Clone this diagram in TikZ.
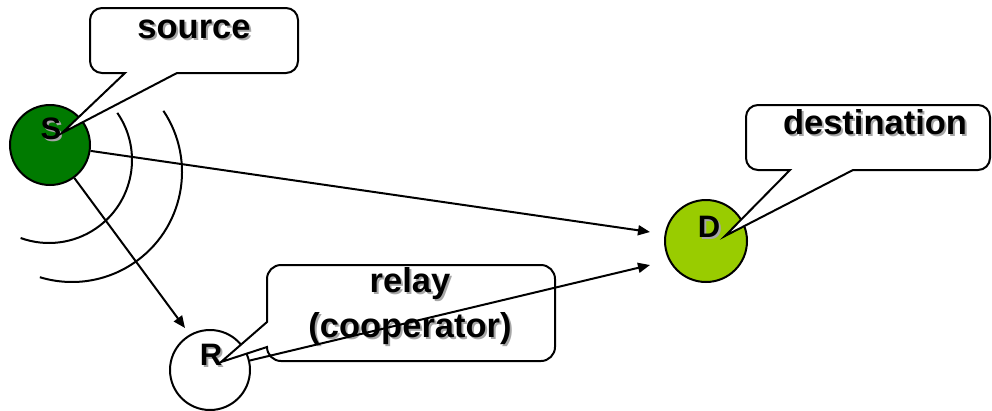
\documentclass[tikz,border=0pt]{standalone}
\usepackage{fontspec}
\setmainfont{Liberation Sans}
\usetikzlibrary{arrows.meta}
\definecolor{sgreen}{HTML}{007A00}
\definecolor{dgreen}{HTML}{99CC00}
\definecolor{shgray}{HTML}{A6A6A6}
\newcommand\shtxt[1]{\leavevmode\rlap{\kern2pt\raisebox{-2pt}[0pt][0pt]{\textcolor{shgray}{#1}}}#1}
\begin{document}
\begin{tikzpicture}[x=1pt,y=1pt, line width=2pt,
  nodecirc/.style={circle, draw, minimum size=80pt, inner sep=0pt},
  lbl/.style={font=\fontsize{31}{33}\selectfont\bfseries, inner sep=0pt},
  ctext/.style={font=\fontsize{34.5}{45}\selectfont\bfseries, inner sep=0pt, align=center},
  callout/.style={draw, fill=white, line join=miter},
  conn/.style={-{Triangle[length=12pt,width=10pt]}},
  wave/.style={}]
\useasboundingbox (0,0) rectangle (992,-410);

% waves
\draw[wave] (49,-160) ++(34.6:83) arc[start angle=34.6, end angle=-110, radius=83];
\draw[wave] (72,-172) ++(33.8:110) arc[start angle=33.8, end angle=-107, radius=110];

% nodes
\node[nodecirc, fill=sgreen] (S) at (50,-145) {};
\node[nodecirc, fill=dgreen, minimum size=82pt] (D) at (706,-241) {};
\node[nodecirc, fill=white] (R) at (210,-370) {};
\node[lbl] (Slbl) at (51,-129) {\shtxt{S}};
\node[lbl] (Dlbl) at (709,-227) {\shtxt{D}};
\node[lbl] (Rlbl) at (211,-355) {\shtxt{R}};

% callouts
\draw[callout] (125,-73) -- (62,-133) -- (177,-73) -- (286,-73)
  arc[start angle=-90,end angle=0,radius=12] -- (298,-20)
  arc[start angle=0,end angle=90,radius=12] -- (102,-8)
  arc[start angle=90,end angle=180,radius=12] -- (90,-61)
  arc[start angle=180,end angle=270,radius=12] -- cycle;
\draw[callout] (790,-170) -- (725,-236) -- (853,-170) -- (978,-170)
  arc[start angle=-90,end angle=0,radius=12] -- (990,-117)
  arc[start angle=0,end angle=90,radius=12] -- (758,-105)
  arc[start angle=90,end angle=180,radius=12] -- (746,-158)
  arc[start angle=180,end angle=270,radius=12] -- cycle;
\draw[callout] (267,-322) -- (221,-362) -- (267,-347)
  arc[start angle=180,end angle=270,radius=14] -- (541,-361)
  arc[start angle=-90,end angle=0,radius=14] -- (555,-279)
  arc[start angle=0,end angle=90,radius=14] -- (281,-265)
  arc[start angle=90,end angle=180,radius=14] -- cycle;

\node[ctext, anchor=base] (srcT) at (194,-38) {\shtxt{source}};
\node[ctext, anchor=base] (dstT) at (875,-134) {\shtxt{destination}};
\node[ctext] (relT) at (410,-306) {\shtxt{relay}\\\shtxt{(cooperator)}};

% connectors
\coordinate (tS) at (650,-232);
\coordinate (tR) at (650,-265);
\coordinate (rS) at (185,-328);
\draw[conn] (S) -- (tS);
\draw[conn] (S) -- (rS);
\draw[conn] (R) -- (tR);
\end{tikzpicture}
\end{document}
